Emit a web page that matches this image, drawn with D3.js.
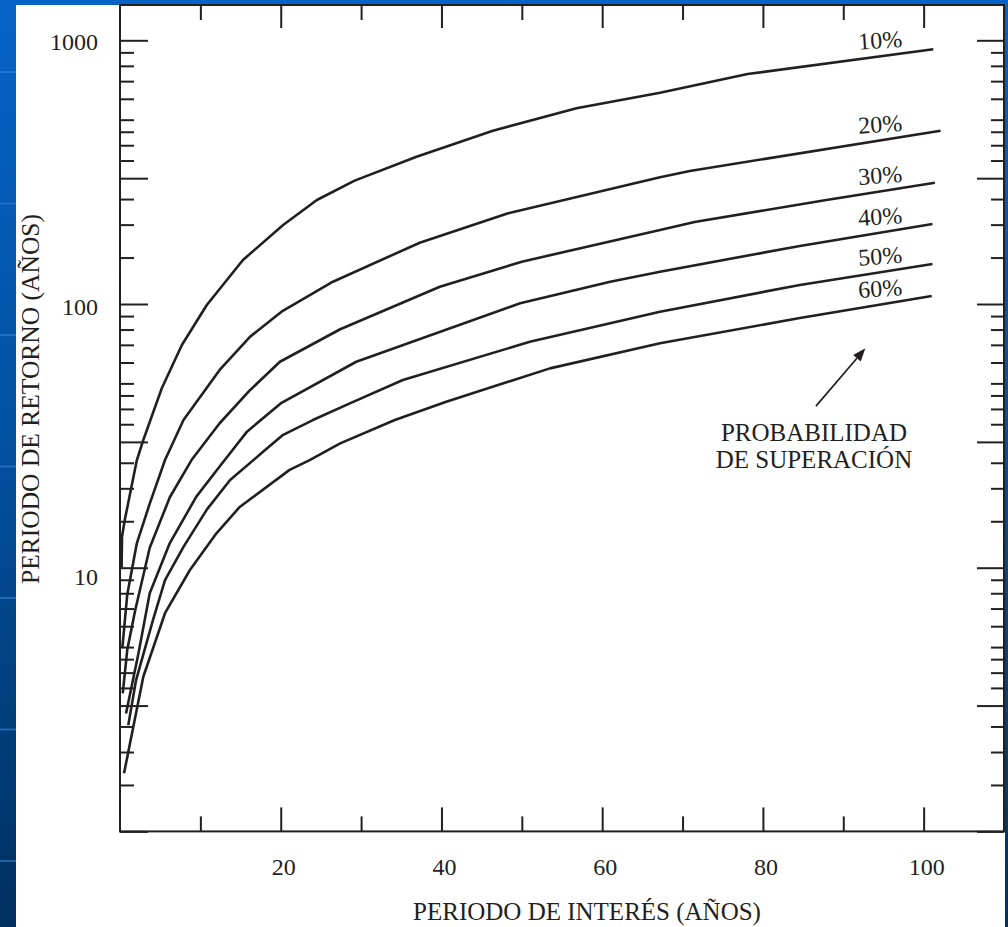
<!DOCTYPE html>
<html>
<head>
<meta charset="utf-8">
<script src="https://cdn.jsdelivr.net/npm/d3@7"></script>
<style>
  html, body { margin: 0; padding: 0; background: #ffffff; }
  svg { display: block; }
  text { font-family: "Liberation Serif", "Times New Roman", serif; fill: #231f20; }
</style>
</head>
<body>
<script>
// Return period (years) versus period of interest (years), one curve per exceedance probability.
// Each curve: [period of interest, return period]
const curve10 = [[0.2,10.0],[0.25,13.1],[0.6,15.2],[2.1,25.6],[2.9,30.5],[5.2,47.9],[7.7,69.9],[10.8,99.1],[15.3,146.9],[20.3,199.3],[24.5,248],[29.2,293.6],[36.9,361.9],[46.4,454.1],[56.8,552.3],[67.2,632.9],[78.1,745.1],[101.2,924.6]];
const curve20 = [[0.3,5.0],[0.9,7.9],[2.1,12.4],[3.7,17.5],[5.6,25.6],[7.9,36.3],[12.4,56.2],[16.2,75.2],[20.1,93.5],[26.5,121.5],[37.3,170.8],[48.3,220.8],[67.2,302.3],[70.9,319.5],[102.1,454.1]];
const curve30 = [[0.34,3.34],[0.9,4.87],[1.9,6.91],[3.7,11.9],[6.2,18.5],[8.9,25.6],[12.4,35.3],[16.2,47.2],[19.9,60.4],[27.4,80.2],[39.8,116.3],[50.0,144.7],[67.2,190.8],[71.5,204.6],[87.9,248],[101.4,288.4]];
const curve40 = [[0.75,2.80],[2.3,4.74],[3.7,8.0],[6.2,12.4],[9.5,18.6],[12.4,24.2],[15.8,32.8],[20.1,42.2],[29.4,60.4],[49.8,100.6],[61.0,121.5],[67.2,132.6],[84.6,166],[101.1,201.1]];
const curve50 = [[1.03,2.53],[2.0,3.75],[4.1,6.33],[5.6,8.98],[7.9,12.0],[10.8,16.6],[13.7,21.5],[17.8,27.5],[20.3,31.9],[24.0,36.3],[28.6,42.0],[35.2,51.5],[51.0,71.9],[67.2,93.5],[84.6,118.1],[101.1,141.8]];
const curve60 = [[0.5,1.66],[2.9,3.86],[5.6,6.72],[8.7,9.8],[12.0,13.5],[14.9,17.0],[21.1,23.5],[23.6,25.6],[27.4,29.6],[34.2,36.3],[40.6,42.6],[53.5,57.0],[67.2,71.0],[84.6,88.5],[101.0,107.2]];

const probabilityLabels = ["10%", "20%", "30%", "40%", "50%", "60%"];

// Axis ticks
const xMajorTicks = [20, 40, 60, 80, 100];
const xMinorTicks = [10, 30, 50, 70, 90];
const yLabelTicks = [1000, 100, 10];
const yMajorTicks = [1, 3, 10, 30, 100, 300, 1000];
const yMinorSteps = [1.5, 2, 2.5, 3.5, 4, 4.5, 5, 6, 7, 8, 9];
const yDecades = [1, 10, 100];

// Annotation arrow: tail and head in data units
const arrowTail = [86.6, 41.0];
const arrowHead = [92.75, 67.9];

const W = 1008, H = 927;
const ink = "#231f20";
const plot = { left: 120, right: 1004, top: 5, bottom: 831.4 };

const x = d3.scaleLinear().domain([0, 110]).range([plot.left, plot.right]);
const y = d3.scaleLog().domain([1, 1000]).range([plot.bottom, 40.3]);

const svg = d3.select("body").append("svg").attr("width", W).attr("height", H);

// slide background
const defs = svg.append("defs");
const grad = defs.append("linearGradient").attr("id", "slideBlue")
  .attr("x1", 0).attr("y1", 0).attr("x2", 0).attr("y2", 1);
grad.append("stop").attr("offset", "0%").attr("stop-color", "#0663c8");
grad.append("stop").attr("offset", "50%").attr("stop-color", "#024f9e");
grad.append("stop").attr("offset", "100%").attr("stop-color", "#00305f");
svg.append("rect").attr("width", W).attr("height", H).attr("fill", "url(#slideBlue)");
svg.selectAll("line.stripe").data(d3.range(72, H, 131.5)).join("line")
  .attr("class", "stripe")
  .attr("x1", 0).attr("x2", 16).attr("y1", d => d).attr("y2", d => d)
  .attr("stroke", "#3a86d8").attr("stroke-opacity", 0.55).attr("stroke-width", 2);
svg.append("rect").attr("x", 16).attr("y", 5).attr("width", 989).attr("height", H - 5).attr("fill", "#ffffff");

// frame
svg.append("rect")
  .attr("x", plot.left).attr("y", plot.top)
  .attr("width", plot.right - plot.left).attr("height", plot.bottom - plot.top)
  .attr("fill", "none").attr("stroke", ink).attr("stroke-width", 2);

const yMinorTicks = yDecades.flatMap(d => yMinorSteps.map(s => d * s))
  .filter(v => !yMajorTicks.includes(v));

function tickGroup(axis, tx, ty) {
  const g = svg.append("g").attr("transform", `translate(${tx},${ty})`)
    .attr("color", ink).call(axis);
  g.select(".domain").remove();
  g.selectAll(".tick line").attr("stroke-width", 2);
  g.selectAll(".tick text").remove();
  return g;
}

// inward ticks on all four sides
tickGroup(d3.axisRight(y).tickValues(yMajorTicks).tickSize(28).tickSizeOuter(0), plot.left, 0);
tickGroup(d3.axisRight(y).tickValues(yMinorTicks).tickSize(14).tickSizeOuter(0), plot.left, 0);
tickGroup(d3.axisLeft(y).tickValues(yMajorTicks).tickSize(27).tickSizeOuter(0), plot.right, 0);
tickGroup(d3.axisLeft(y).tickValues(yMinorTicks).tickSize(13).tickSizeOuter(0), plot.right, 0);
tickGroup(d3.axisBottom(x).tickValues(xMajorTicks).tickSize(23).tickSizeOuter(0), 0, plot.top);
tickGroup(d3.axisBottom(x).tickValues(xMinorTicks).tickSize(15).tickSizeOuter(0), 0, plot.top);
tickGroup(d3.axisTop(x).tickValues(xMajorTicks).tickSize(24).tickSizeOuter(0), 0, plot.bottom);
tickGroup(d3.axisTop(x).tickValues(xMinorTicks).tickSize(15).tickSizeOuter(0), 0, plot.bottom);

// tick labels
const yLabelDrop = { 1000: 10, 100: 11, 10: 17 };
svg.selectAll("text.ylab").data(yLabelTicks).join("text")
  .attr("class", "ylab")
  .attr("x", 98).attr("y", d => y(d) + yLabelDrop[d])
  .attr("text-anchor", "end").attr("font-size", 24)
  .text(d => d);

svg.selectAll("text.xlab").data(xMajorTicks).join("text")
  .attr("class", "xlab")
  .attr("x", d => x(d) + 3).attr("y", 875)
  .attr("text-anchor", "middle").attr("font-size", 24)
  .text(d => d);

// axis titles
svg.append("text")
  .attr("transform", `translate(39,399) rotate(-90)`)
  .attr("text-anchor", "middle").attr("font-size", 25.5)
  .text("PERIODO DE RETORNO (AÑOS)");
svg.append("text")
  .attr("x", 587).attr("y", 920)
  .attr("text-anchor", "middle").attr("font-size", 25)
  .text("PERIODO DE INTERÉS (AÑOS)");

// curves
const curves = [curve10, curve20, curve30, curve40, curve50, curve60];
const line = d3.line().x(d => x(d[0])).y(d => y(d[1]));
svg.append("g").selectAll("path").data(curves).join("path")
  .attr("d", line)
  .attr("fill", "none").attr("stroke", ink)
  .attr("stroke-width", 2.6).attr("stroke-linejoin", "round").attr("stroke-linecap", "butt");

// probability labels sit just above each curve near its right end
const labelAt = 94.65;
function curveYAt(c, n) {
  for (let i = 1; i < c.length; i++) {
    if (c[i][0] >= n) {
      const a = c[i - 1], b = c[i];
      const t = (n - a[0]) / (b[0] - a[0]);
      return y(a[1]) + t * (y(b[1]) - y(a[1]));
    }
  }
  return y(c[c.length - 1][1]);
}
svg.selectAll("text.plab").data(curves).join("text")
  .attr("class", "plab")
  .attr("transform", (c, i) => `translate(${x(labelAt)},${curveYAt(c, labelAt) - 8}) rotate(-4)`)
  .attr("text-anchor", "middle").attr("font-size", 24)
  .text((c, i) => probabilityLabels[i]);

// annotation arrow
const tx = x(arrowTail[0]), ty = y(arrowTail[1]);
const hx = x(arrowHead[0]), hy = y(arrowHead[1]);
const ang = Math.atan2(hy - ty, hx - tx);
const headLen = 13, headHalf = 5;
const bx = hx - headLen * Math.cos(ang), by = hy - headLen * Math.sin(ang);
svg.append("line")
  .attr("x1", tx).attr("y1", ty).attr("x2", bx).attr("y2", by)
  .attr("stroke", ink).attr("stroke-width", 1.7);
svg.append("path")
  .attr("d", `M${hx},${hy}L${bx + headHalf * Math.sin(ang)},${by - headHalf * Math.cos(ang)}L${bx - headHalf * Math.sin(ang)},${by + headHalf * Math.cos(ang)}Z`)
  .attr("fill", ink);

svg.append("text")
  .attr("x", tx - 2).attr("y", ty + 35)
  .attr("text-anchor", "middle").attr("font-size", 25)
  .text("PROBABILIDAD");
svg.append("text")
  .attr("x", tx - 2).attr("y", ty + 62)
  .attr("text-anchor", "middle").attr("font-size", 25)
  .text("DE SUPERACIÓN");
</script>
</body>
</html>
